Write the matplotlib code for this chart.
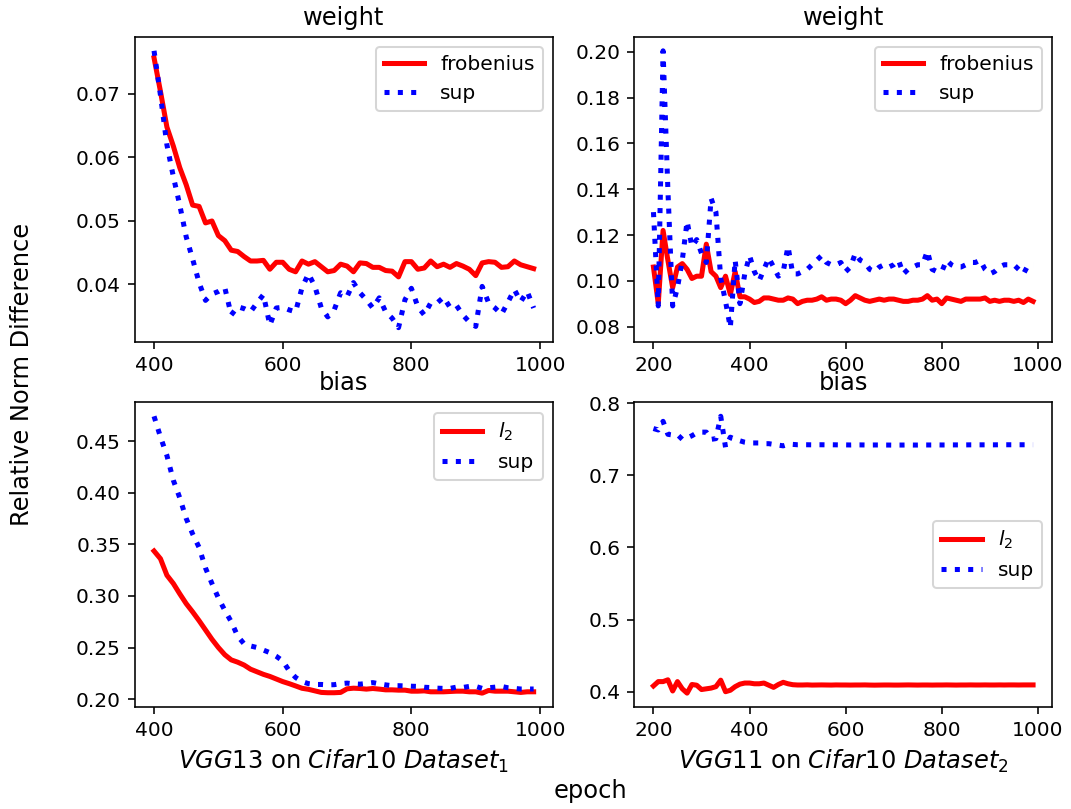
import numpy as np
import matplotlib
matplotlib.use('Agg')
import matplotlib.pyplot as plt

# epochs for each experiment
epochs_vgg13 = np.arange(400, 1000, 10)
epochs_vgg11 = np.arange(200, 1000, 10)

# VGG13, weight
w13_frob = [0.0757, 0.0704, 0.0648, 0.0618, 0.0584, 0.0557, 0.0525, 0.0523, 0.0497, 0.0500,
            0.0477, 0.0469, 0.0454, 0.0452, 0.0444, 0.0437, 0.0437, 0.0438, 0.0424, 0.0435,
            0.0435, 0.0424, 0.0420, 0.0437, 0.0432, 0.0436, 0.0428, 0.0420, 0.0422, 0.0432,
            0.0429, 0.0420, 0.0434, 0.0433, 0.0427, 0.0427, 0.0422, 0.0421, 0.0412, 0.0436,
            0.0436, 0.0424, 0.0426, 0.0437, 0.0428, 0.0432, 0.0427, 0.0433, 0.0429, 0.0424,
            0.0414, 0.0434, 0.0436, 0.0435, 0.0427, 0.0428, 0.0437, 0.0431, 0.0428, 0.0425]
w13_sup = [0.0768, 0.0698, 0.0620, 0.0570, 0.0525, 0.0475, 0.0440, 0.0403, 0.0375, 0.0385,
           0.0389, 0.0395, 0.0352, 0.0365, 0.0362, 0.0357, 0.0371, 0.0384, 0.0336, 0.0363,
           0.0364, 0.0360, 0.0357, 0.0395, 0.0417, 0.0397, 0.0363, 0.0349, 0.0360, 0.0387,
           0.0381, 0.0403, 0.0387, 0.0376, 0.0363, 0.0379, 0.0357, 0.0347, 0.0332, 0.0376,
           0.0394, 0.0365, 0.0352, 0.0371, 0.0371, 0.0380, 0.0364, 0.0367, 0.0352, 0.0341,
           0.0334, 0.0397, 0.0371, 0.0363, 0.0353, 0.0372, 0.0392, 0.0373, 0.0389, 0.0363]

# VGG13, bias
b13_l2 = [0.3435, 0.3360, 0.3200, 0.3120, 0.3020, 0.2925, 0.2845, 0.2760, 0.2670, 0.2580,
          0.2500, 0.2430, 0.2380, 0.2358, 0.2330, 0.2290, 0.2265, 0.2240, 0.2220, 0.2195,
          0.2170, 0.2150, 0.2128, 0.2105, 0.2095, 0.2080, 0.2065, 0.2062, 0.2062, 0.2065,
          0.2100, 0.2106, 0.2103, 0.2097, 0.2103, 0.2097, 0.2090, 0.2090, 0.2087, 0.2087,
          0.2077, 0.2077, 0.2080, 0.2071, 0.2071, 0.2071, 0.2074, 0.2077, 0.2077, 0.2071,
          0.2071, 0.2058, 0.2084, 0.2077, 0.2077, 0.2077, 0.2071, 0.2065, 0.2071, 0.2071]
b13_sup = [0.4740, 0.4540, 0.4360, 0.4120, 0.3950, 0.3750, 0.3600, 0.3470, 0.3270, 0.3120,
           0.2980, 0.2860, 0.2750, 0.2610, 0.2535, 0.2515, 0.2500, 0.2475, 0.2450, 0.2415,
           0.2370, 0.2275, 0.2210, 0.2170, 0.2150, 0.2142, 0.2142, 0.2138, 0.2140, 0.2150,
           0.2155, 0.2148, 0.2145, 0.2152, 0.2160, 0.2148, 0.2138, 0.2130, 0.2130, 0.2128,
           0.2125, 0.2123, 0.2115, 0.2112, 0.2106, 0.2104, 0.2104, 0.2116, 0.2113, 0.2123,
           0.2123, 0.2104, 0.2110, 0.2116, 0.2123, 0.2110, 0.2104, 0.2098, 0.2098, 0.2098]

# VGG11, weight
w11_frob = [0.1060, 0.0900, 0.1220, 0.1090, 0.0970, 0.1060, 0.1075, 0.1050, 0.1010, 0.1020,
            0.1020, 0.1160, 0.1040, 0.1020, 0.0970, 0.1020, 0.0940, 0.1040, 0.0930, 0.0930,
            0.0920, 0.0905, 0.0910, 0.0925, 0.0925, 0.0920, 0.0915, 0.0915, 0.0925, 0.0920,
            0.0900, 0.0910, 0.0915, 0.0915, 0.0920, 0.0930, 0.0915, 0.0920, 0.0920, 0.0915,
            0.0900, 0.0915, 0.0935, 0.0925, 0.0915, 0.0910, 0.0915, 0.0920, 0.0915, 0.0920,
            0.0920, 0.0915, 0.0910, 0.0910, 0.0915, 0.0915, 0.0920, 0.0935, 0.0915, 0.0920,
            0.0900, 0.0925, 0.0920, 0.0915, 0.0910, 0.0920, 0.0920, 0.0920, 0.0920, 0.0925,
            0.0910, 0.0915, 0.0910, 0.0915, 0.0915, 0.0910, 0.0915, 0.0905, 0.0920, 0.0910]
w11_sup = [0.1300, 0.0890, 0.2005, 0.1400, 0.0890, 0.0970, 0.1090, 0.1260, 0.1150, 0.1180,
           0.1120, 0.1080, 0.1360, 0.1300, 0.1010, 0.0910, 0.0795, 0.1090, 0.0900, 0.1030,
           0.1110, 0.1040, 0.1000, 0.1050, 0.1100, 0.1060, 0.1020, 0.1040, 0.1150, 0.1030,
           0.1030, 0.1040, 0.1050, 0.1070, 0.1090, 0.1110, 0.1080, 0.1070, 0.1070, 0.1080,
           0.1040, 0.1060, 0.1120, 0.1090, 0.1080, 0.1050, 0.1040, 0.1060, 0.1070, 0.1060,
           0.1070, 0.1090, 0.1030, 0.1050, 0.1060, 0.1070, 0.1070, 0.1130, 0.1050, 0.1040,
           0.1040, 0.1090, 0.1070, 0.1060, 0.1060, 0.1070, 0.1080, 0.1080, 0.1090, 0.1050,
           0.1030, 0.1040, 0.1060, 0.1070, 0.1070, 0.1070, 0.1050, 0.1030, 0.1070, 0.1070]

# VGG11, bias
b11_l2 = [0.4080, 0.4140, 0.4140, 0.4165, 0.4010, 0.4140, 0.4040, 0.3980, 0.4100, 0.4090,
          0.4030, 0.4040, 0.4050, 0.4070, 0.4160, 0.4000, 0.4020, 0.4070, 0.4105, 0.4120,
          0.4120, 0.4110, 0.4110, 0.4120, 0.4090, 0.4060, 0.4100, 0.4130, 0.4110, 0.4097,
          0.4093, 0.4093, 0.4095, 0.4092, 0.4093, 0.4094, 0.4093, 0.4092, 0.4094, 0.4093,
          0.4093, 0.4092, 0.4093, 0.4093, 0.4094, 0.4092, 0.4091, 0.4092, 0.4093, 0.4093,
          0.4092, 0.4092, 0.4093, 0.4094, 0.4093, 0.4092, 0.4093, 0.4093, 0.4092, 0.4093,
          0.4093, 0.4094, 0.4093, 0.4092, 0.4093, 0.4093, 0.4094, 0.4093, 0.4093, 0.4094,
          0.4093, 0.4093, 0.4094, 0.4093, 0.4094, 0.4094, 0.4093, 0.4094, 0.4094, 0.4094]
b11_sup = [0.7650, 0.7630, 0.7750, 0.7570, 0.7560, 0.7565, 0.7500, 0.7520, 0.7550, 0.7590,
           0.7600, 0.7600, 0.7500, 0.7510, 0.7820, 0.7390, 0.7530, 0.7500, 0.7480, 0.7460,
           0.7450, 0.7450, 0.7450, 0.7440, 0.7440, 0.7430, 0.7420, 0.7410, 0.7430, 0.7430,
           0.7425, 0.7425, 0.7425, 0.7424, 0.7425, 0.7425, 0.7424, 0.7425, 0.7424, 0.7423,
           0.7423, 0.7422, 0.7423, 0.7423, 0.7422, 0.7421, 0.7422, 0.7422, 0.7421, 0.7421,
           0.7420, 0.7421, 0.7421, 0.7422, 0.7421, 0.7421, 0.7422, 0.7422, 0.7422, 0.7423,
           0.7422, 0.7422, 0.7423, 0.7423, 0.7423, 0.7423, 0.7424, 0.7424, 0.7424, 0.7424,
           0.7424, 0.7424, 0.7425, 0.7425, 0.7425, 0.7425, 0.7425, 0.7425, 0.7425, 0.7425]

xlabel_13 = r'$VGG13$ on $Cifar10$ $Dataset_1$'
xlabel_11 = r'$VGG11$ on $Cifar10$ $Dataset_2$'

dpi = 145
fig, axes = plt.subplots(2, 2, figsize=(1071 / dpi, 809 / dpi), dpi=dpi)
fig.subplots_adjust(left=0.1261, right=0.9823, top=0.9543, bottom=0.1261,
                    wspace=0.196, hspace=0.2)

lw = 2.5


def draw(ax, x, a, b, la, title, loc):
    ax.plot(x, a, color='r', linewidth=lw, label=la)
    ax.plot(x, b, color='b', linewidth=lw, linestyle=':', label='sup')
    ax.set_title(title, fontsize=12)
    ax.legend(loc=loc)


draw(axes[0, 0], epochs_vgg13, w13_frob, w13_sup, 'frobenius', 'weight', 'upper right')
draw(axes[0, 1], epochs_vgg11, w11_frob, w11_sup, 'frobenius', 'weight', 'upper right')
draw(axes[1, 0], epochs_vgg13, b13_l2, b13_sup, r'$l_2$', 'bias', 'upper right')
draw(axes[1, 1], epochs_vgg11, b11_l2, b11_sup, r'$l_2$', 'bias', 'center right')

axes[0, 0].set_xticks([400, 600, 800, 1000])
axes[1, 0].set_xticks([400, 600, 800, 1000])
axes[1, 0].set_xlabel(xlabel_13, fontsize=12)
axes[1, 1].set_xlabel(xlabel_11, fontsize=12)

fig.text(590 / 1071, 1 - 791 / 809, 'epoch', ha='center', va='center', fontsize=12)
fig.text(22 / 1071, 1 - 374 / 809, 'Relative Norm Difference', ha='center', va='center',
         rotation=90, fontsize=12)

fig.savefig('out.png', dpi=dpi)
